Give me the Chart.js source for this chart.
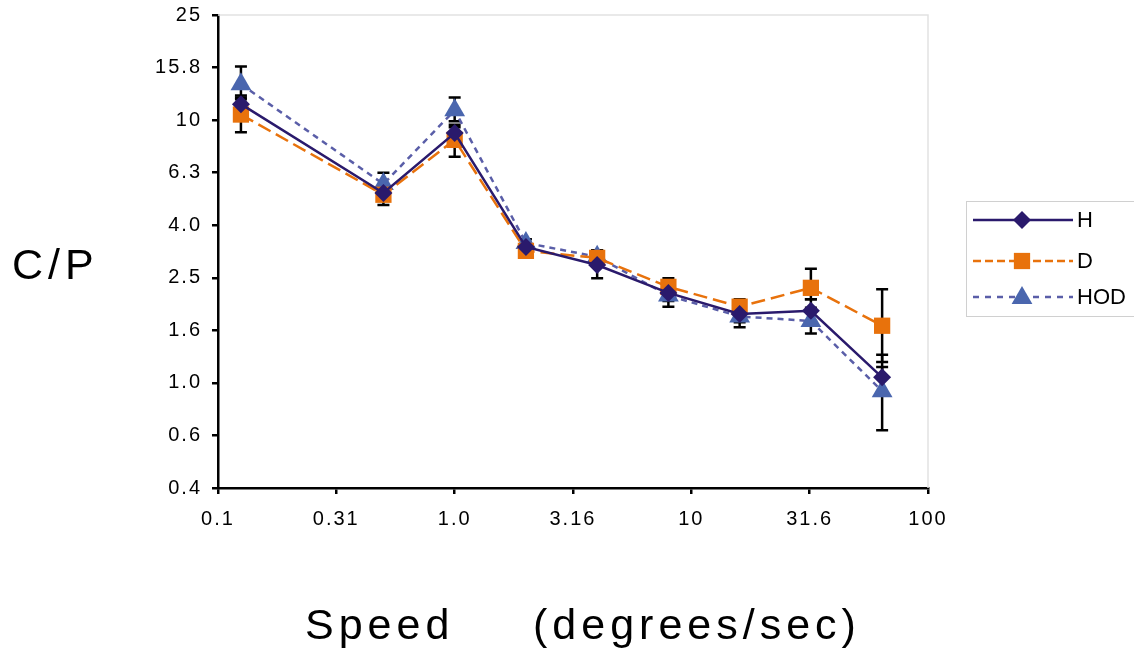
<!DOCTYPE html>
<html lang="en">
<head>
  <meta charset="UTF-8">
  <title>C/P vs Speed</title>
  <script src="https://cdn.jsdelivr.net/npm/chart.js"></script>
  <style>
    body { margin: 0; background: #fff; }
    #wrap { width: 1134px; height: 649px; }
  </style>
</head>
<body>
  <div id="wrap"><canvas id="cpChart" width="1134" height="649"></canvas></div>

  <script>
    // speed in degrees/sec
    const speeds = [0.125, 0.5, 1, 2, 4, 8, 16, 32, 64];

    const hValues   = [11.5, 5.28, 8.93, 3.29, 2.81, 2.20, 1.83, 1.88, 1.05];
    const dValues   = [10.5, 5.20, 8.41, 3.18, 2.99, 2.32, 1.95, 2.30, 1.65];
    const hodValues = [13.7, 5.71, 10.9, 3.41, 3.02, 2.15, 1.79, 1.72, 0.93];

    // error bar ends
    const hLow    = [10.6, 5.05, 8.3, 3.18, 2.50, 2.05, 1.70, 1.70, 0.92];
    const hHigh   = [12.4, 5.50, 9.6, 3.42, 3.00, 2.35, 1.95, 2.08, 1.15];
    const dLow    = [9.0, 4.75, 7.25, 3.05, 2.85, 2.20, 1.85, 2.08, 1.20];
    const dHigh   = [12.2, 5.65, 9.4, 3.32, 3.20, 2.50, 2.08, 2.72, 2.27];
    const hodLow  = [12.0, 5.25, 9.9, 3.30, 2.90, 1.95, 1.63, 1.54, 0.66];
    const hodHigh = [16.0, 6.30, 12.2, 3.52, 3.20, 2.30, 1.90, 1.93, 1.28];

    const xTickValues = [0.1, 0.316, 1, 3.16, 10, 31.6, 100];
    const xTickLabels = ['0.1', '0.31', '1.0', '3.16', '10', '31.6', '100'];
    const yTickValues = [0.3981, 0.631, 1, 1.585, 2.512, 3.981, 6.31, 10, 15.85, 25.12];
    const yTickLabels = ['0.4', '0.6', '1.0', '1.6', '2.5', '4.0', '6.3', '10', '15.8', '25'];

    const FONT = '"Liberation Sans", Arial, sans-serif';

    function points(vals) {
      return speeds.map((s, i) => ({ x: s, y: vals[i] }));
    }

    const series = [
      { label: 'H', data: hValues, low: hLow, high: hHigh, color: '#2a1a6c', pointColor: '#2a1a6c',
        dash: [], legendDash: [], style: 'rectRot', radius: 9 },
      { label: 'D', data: dValues, low: dLow, high: dHigh, color: '#e8720c', pointColor: '#e8720c',
        dash: [14, 6], legendDash: [8, 4], style: 'rect', radius: 11.5 },
      { label: 'HOD', data: hodValues, low: hodLow, high: hodHigh, color: '#5a5ea8', pointColor: '#4a66ae',
        dash: [6, 5], legendDash: [6, 6], style: 'triangle', radius: 12 }
    ];

    // black error bars, drawn under the markers
    const errorBars = {
      id: 'errorBars',
      beforeDatasetsDraw(chart) {
        const { ctx, scales: { x, y } } = chart;
        ctx.save();
        ctx.strokeStyle = '#000';
        ctx.lineWidth = 2.5;
        series.forEach(s => {
          speeds.forEach((sp, i) => {
            const px = x.getPixelForValue(sp);
            const top = y.getPixelForValue(s.high[i]);
            const bot = y.getPixelForValue(s.low[i]);
            ctx.beginPath();
            ctx.moveTo(px, top); ctx.lineTo(px, bot);
            ctx.moveTo(px - 6, top); ctx.lineTo(px + 6, top);
            ctx.moveTo(px - 6, bot); ctx.lineTo(px + 6, bot);
            ctx.stroke();
          });
        });
        ctx.restore();
      }
    };

    function drawMarker(ctx, style, cx, cy, r) {
      ctx.beginPath();
      if (style === 'rect') {
        const h = r * Math.SQRT1_2;
        ctx.rect(cx - h, cy - h, 2 * h, 2 * h);
      } else if (style === 'rectRot') {
        ctx.moveTo(cx, cy - r); ctx.lineTo(cx + r, cy);
        ctx.lineTo(cx, cy + r); ctx.lineTo(cx - r, cy);
        ctx.closePath();
      } else {
        ctx.moveTo(cx, cy - r);
        ctx.lineTo(cx + r * 0.866, cy + r * 0.5);
        ctx.lineTo(cx - r * 0.866, cy + r * 0.5);
        ctx.closePath();
      }
      ctx.fill();
    }

    // titles, frame and legend
    const extras = {
      id: 'extras',
      beforeDraw(chart) {
        chart.ctx.letterSpacing = '2px';
      },
      afterDraw(chart) {
        const { ctx, chartArea: a } = chart;
        ctx.save();
        ctx.strokeStyle = '#e2e2e2';
        ctx.lineWidth = 1.5;
        ctx.beginPath();
        ctx.moveTo(a.left, a.top); ctx.lineTo(a.right, a.top); ctx.lineTo(a.right, a.bottom);
        ctx.stroke();

        ctx.fillStyle = '#000';
        ctx.letterSpacing = '5px';
        ctx.font = '43px ' + FONT;
        ctx.textBaseline = 'alphabetic';
        ctx.textAlign = 'left';
        ctx.fillText('C/P', 12, 279);
        ctx.fillText('Speed', 305, 639);
        ctx.fillText('(degrees/sec)', 533, 639);

        // legend
        ctx.letterSpacing = '0px';
        ctx.strokeStyle = '#d0d0d0';
        ctx.lineWidth = 1;
        ctx.strokeRect(966.5, 201.5, 175, 115);
        const rows = [220, 261, 297];
        ctx.font = '22px ' + FONT;
        ctx.textBaseline = 'middle';
        series.forEach((s, i) => {
          const yy = rows[i];
          ctx.strokeStyle = s.color;
          ctx.lineWidth = 2.5;
          ctx.setLineDash(s.legendDash);
          ctx.beginPath();
          ctx.moveTo(973, yy); ctx.lineTo(1073, yy);
          ctx.stroke();
          ctx.setLineDash([]);
          ctx.fillStyle = s.pointColor;
          drawMarker(ctx, s.style, 1022, yy + (s.style === 'triangle' ? 1 : 0), s.radius);
          ctx.fillStyle = '#000';
          ctx.fillText(s.label, 1077, yy + 1);
        });
        ctx.restore();
        ctx.letterSpacing = '0px';
      }
    };

    const ctx = document.getElementById('cpChart').getContext('2d');
    const cpChart = new Chart(ctx, {
      type: 'line',
      data: {
        datasets: series.map(s => ({
          label: s.label,
          data: points(s.data),
          borderColor: s.color,
          backgroundColor: s.pointColor,
          borderWidth: 2.5,
          borderDash: s.dash,
          pointStyle: s.style,
          pointRadius: s.radius,
          pointHoverRadius: s.radius,
          pointBorderWidth: 0,
          pointBackgroundColor: s.pointColor,
          tension: 0
        }))
      },
      options: {
        responsive: false,
        animation: false,
        events: [],
        layout: { padding: { left: 0, top: 15, right: 206, bottom: 0 } },
        plugins: { legend: { display: false }, tooltip: { enabled: false } },
        scales: {
          x: {
            type: 'logarithmic',
            min: 0.1,
            max: 100,
            afterBuildTicks(scale) { scale.ticks = xTickValues.map(v => ({ value: v })); },
            afterFit(scale) { scale.height = 161; scale.paddingLeft = 0; scale.paddingRight = 0; },
            ticks: {
              autoSkip: false,
              maxRotation: 0,
              padding: 13,
              color: '#000',
              font: { family: FONT, size: 20 },
              callback: (v, i) => xTickLabels[i]
            },
            grid: { drawOnChartArea: false, color: '#000', lineWidth: 2.5, tickLength: 6 },
            border: { color: '#000', width: 2.5 }
          },
          y: {
            type: 'logarithmic',
            min: 0.3981,
            max: 25.12,
            afterBuildTicks(scale) { scale.ticks = yTickValues.map(v => ({ value: v })); },
            afterFit(scale) { scale.width = 218; scale.paddingTop = 0; scale.paddingBottom = 0; },
            ticks: {
              autoSkip: false,
              padding: 10,
              color: '#000',
              font: { family: FONT, size: 20 },
              callback: (v, i) => yTickLabels[i]
            },
            grid: { drawOnChartArea: false, color: '#000', lineWidth: 2.5, tickLength: 6 },
            border: { color: '#000', width: 2.5 }
          }
        }
      },
      plugins: [errorBars, extras]
    });
  </script>
</body>
</html>
